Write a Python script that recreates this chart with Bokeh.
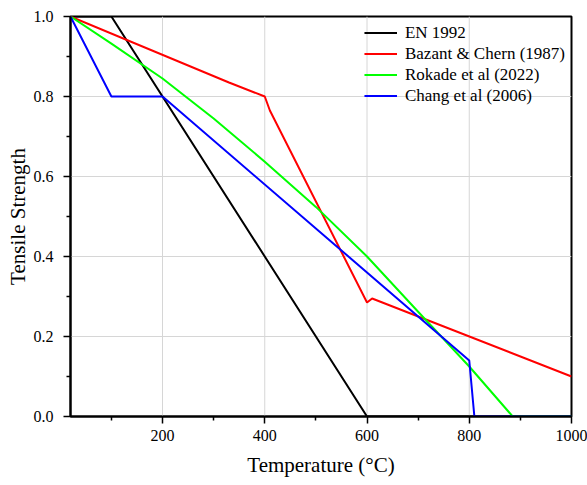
from bokeh.plotting import figure
from bokeh.models import FixedTicker, Legend, LegendItem, Range1d, NumeralTickFormatter, Span
from bokeh.embed import file_html
from bokeh.resources import INLINE

# Data
en_t = [20, 100, 600, 1000]
en_v = [1.0, 1.0, 0.0, 0.0]

bazant_t = [20, 330, 400, 410, 600, 610, 1000]
bazant_v = [1.0, 0.835, 0.8, 0.765, 0.285, 0.295, 0.1]

rokade_t = [20, 100, 200, 300, 400, 500, 600, 700, 800, 885, 1000]
rokade_v = [1.0, 0.932, 0.845, 0.745, 0.637, 0.524, 0.400, 0.262, 0.125, 0.0, 0.0]

chang_t = [20, 100, 200, 800, 810, 1000]
chang_v = [1.0, 0.8, 0.8, 0.14, 0.0, 0.0]

x_ticks = [200, 400, 600, 800, 1000]
x_minor = [100, 300, 500, 700, 900]
y_ticks = [0.0, 0.2, 0.4, 0.6, 0.8, 1.0]
y_minor = [0.1, 0.3, 0.5, 0.7, 0.9]

series = [
    ("EN 1992", en_t, en_v, "#000000"),
    ("Bazant & Chern (1987)", bazant_t, bazant_v, "#ff0000"),
    ("Rokade et al (2022)", rokade_t, rokade_v, "#00ff00"),
    ("Chang et al (2006)", chang_t, chang_v, "#0000ff"),
]

FONT = "Liberation Serif"

p = figure(width=587, height=485, output_backend="svg", toolbar_location=None,
           x_range=Range1d(20, 1000), y_range=Range1d(0, 1),
           min_border_left=70, min_border_right=16, min_border_top=16, min_border_bottom=69)

p.outline_line_color = "#000000"
p.outline_line_width = 2
p.background_fill_color = "white"
p.border_fill_color = "white"

p.xgrid.visible = False
p.ygrid.visible = False
for t in x_ticks[:-1]:
    p.add_layout(Span(location=t, dimension="height", line_color="#d6d6d6", line_width=1, level="underlay"))
for t in y_ticks[1:-1]:
    p.add_layout(Span(location=t, dimension="width", line_color="#d6d6d6", line_width=1, level="underlay"))

items = []
for name, t, v, c in series:
    r = p.line(t, v, line_color=c, line_width=2)
    items.append(LegendItem(label=name, renderers=[r]))

for ax, ticks, minor in ((p.xaxis[0], x_ticks, x_minor), (p.yaxis[0], y_ticks, y_minor)):
    ax.ticker = FixedTicker(ticks=ticks, minor_ticks=minor)
    ax.axis_line_width = 2
    ax.axis_line_color = "#000000"
    ax.major_tick_line_color = "#000000"
    ax.minor_tick_line_color = "#000000"
    ax.major_tick_line_width = 1.5
    ax.minor_tick_line_width = 1.5
    ax.major_tick_in = 0
    ax.major_tick_out = 7
    ax.minor_tick_in = 0
    ax.minor_tick_out = 4
    ax.major_label_text_font = FONT
    ax.major_label_text_font_size = "16px"
    ax.major_label_text_color = "#000000"
    ax.axis_label_text_font = FONT
    ax.axis_label_text_font_size = "21px"
    ax.axis_label_text_font_style = "normal"
    ax.axis_label_text_color = "#000000"

p.xaxis[0].axis_label = "Temperature (°C)"
p.yaxis[0].axis_label = "Tensile Strength"
p.yaxis[0].formatter = NumeralTickFormatter(format="0.0")
p.xaxis[0].major_label_standoff = 6
p.xaxis[0].axis_label_standoff = 9
p.yaxis[0].major_label_standoff = 10
p.yaxis[0].axis_label_standoff = 1

legend = Legend(items=items, location="top_right")
legend.border_line_alpha = 0
legend.background_fill_alpha = 0
legend.label_text_font = FONT
legend.label_text_font_size = "17px"
legend.label_text_color = "#000000"
legend.glyph_width = 33
legend.glyph_height = 21
legend.label_height = 21
legend.label_standoff = 8
legend.spacing = 0
legend.padding = 3
legend.margin = 3
p.add_layout(legend)

open("out.html", "w").write(file_html(p, INLINE))
